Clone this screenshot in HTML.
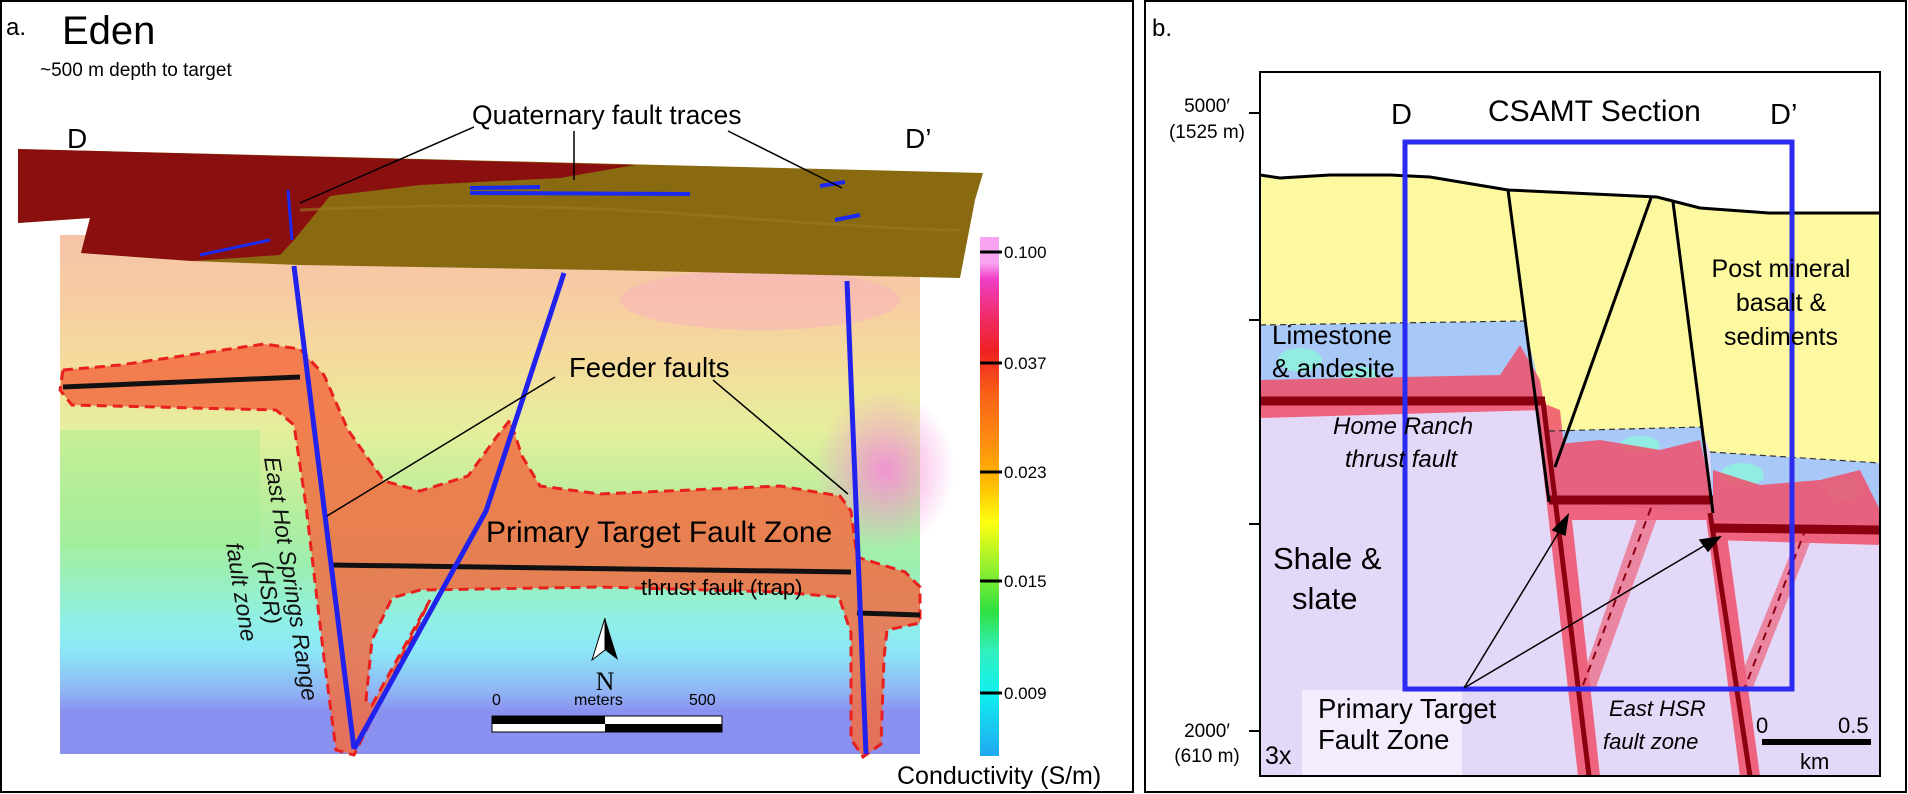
<!DOCTYPE html>
<html><head><meta charset="utf-8"><style>
html,body{margin:0;padding:0;background:#fff;}
svg{display:block;font-family:"Liberation Sans",sans-serif;}
</style></head><body>
<svg width="1908" height="794" viewBox="0 0 1908 794" xmlns="http://www.w3.org/2000/svg">
<defs>
<linearGradient id="cond" x1="0" y1="0" x2="0" y2="1">
<stop offset="0" stop-color="#f6c4a8"/>
<stop offset="0.12" stop-color="#f7cca2"/>
<stop offset="0.25" stop-color="#f4dc9c"/>
<stop offset="0.38" stop-color="#e4ef9c"/>
<stop offset="0.52" stop-color="#b8ee9c"/>
<stop offset="0.64" stop-color="#9cefb0"/>
<stop offset="0.74" stop-color="#90f0e4"/>
<stop offset="0.8" stop-color="#8ce8f8"/>
<stop offset="0.88" stop-color="#90b4f4"/>
<stop offset="0.92" stop-color="#8a90f0"/>
<stop offset="1" stop-color="#8a90f0"/>
</linearGradient>
<radialGradient id="pinkR" cx="0.5" cy="0.5" r="0.5">
<stop offset="0" stop-color="#f58ad8" stop-opacity="0.9"/>
<stop offset="1" stop-color="#f58ad8" stop-opacity="0"/>
</radialGradient>
<linearGradient id="cbar" x1="0" y1="0" x2="0" y2="1">
<stop offset="0" stop-color="#f8a4f0"/>
<stop offset="0.05" stop-color="#f8a4f0"/>
<stop offset="0.08" stop-color="#f040c8"/>
<stop offset="0.16" stop-color="#f02a60"/>
<stop offset="0.22" stop-color="#f02020"/>
<stop offset="0.3" stop-color="#f86018"/>
<stop offset="0.4" stop-color="#ff9010"/>
<stop offset="0.47" stop-color="#ffb800"/>
<stop offset="0.55" stop-color="#ffff10"/>
<stop offset="0.64" stop-color="#90f030"/>
<stop offset="0.72" stop-color="#30e040"/>
<stop offset="0.8" stop-color="#30f0c0"/>
<stop offset="0.88" stop-color="#10f0f0"/>
<stop offset="1" stop-color="#20a8f0"/>
</linearGradient>
</defs>

<rect x="1" y="1" width="1132" height="791" fill="none" stroke="#000" stroke-width="2"/>
<rect x="1145" y="1" width="761" height="791" fill="none" stroke="#000" stroke-width="2"/>

<!-- ===== Panel a ===== -->
<text x="6" y="35" font-size="24">a.</text>
<text x="62" y="44" font-size="40">Eden</text>
<text x="40" y="76" font-size="19">~500 m depth to target</text>

<rect x="60" y="235" width="860" height="519" fill="url(#cond)"/>
<ellipse cx="885" cy="470" rx="70" ry="80" fill="url(#pinkR)"/>
<ellipse cx="760" cy="300" rx="140" ry="30" fill="#f7b0c0" opacity="0.5"/>
<rect x="60" y="430" width="200" height="120" fill="#9eee90" opacity="0.4"/>

<path d="M63,370 L120,365 L264,344 L300,349 L324,375 L348,430 L384,481 L420,491 L468,476 L498,435 L510,420 L522,456 L540,486 L600,494 L780,486 L840,496 L851,511 L857,557 L905,572 L920,587 L920,623 L887,630 L884,658 L881,744 L863,757 L851,739 L851,633 L839,597 L779,592 L600,587 L420,590 L392,598 L372,640 L366,700 L372,705 L430,600 L354,755 L336,750 L324,658 L306,506 L294,425 L276,410 L72,405 L60,390 Z" fill="#f26c42" fill-opacity="0.85" stroke="#e82020" stroke-width="3" stroke-dasharray="10,6"/>

<line x1="63" y1="387" x2="300" y2="377" stroke="#111" stroke-width="5"/>
<line x1="330" y1="565" x2="851" y2="572" stroke="#111" stroke-width="5"/>
<line x1="857" y1="613" x2="920" y2="615" stroke="#111" stroke-width="5"/>

<path d="M18,149 L983,173 L975,200 L960,278 L600,270 L300,265 L192,261 L81,253 L90,218 L18,223 Z" fill="#8a6a10"/>
<path d="M18,149 L635,165 L560,178 L420,185 L330,196 L294,240 L280,255 L192,261 L81,253 L90,218 L18,223 Z" fill="#8a1010"/>
<path d="M300,210 Q500,200 700,215 T960,230" stroke="#9c7c20" stroke-width="3" fill="none" opacity="0.6"/>
<path d="M470,193 L690,194 M470,188 L540,187 M820,186 L845,182 M835,220 L860,215" stroke="#1a2af0" stroke-width="4" fill="none"/>
<path d="M288,190 L292,240 M200,255 L270,240" stroke="#1a2af0" stroke-width="3" fill="none"/>

<g stroke="#2222ee" stroke-width="5" fill="none" stroke-linejoin="round">
<polyline points="294,266 354,749"/>
<polyline points="564,273 486,511 354,749"/>
<polyline points="847,281 866,754"/>
</g>

<text x="67" y="148" font-size="28">D</text>
<text x="905" y="148" font-size="28">D’</text>
<text x="472" y="124" font-size="26.5">Quaternary fault traces</text>
<g stroke="#000" stroke-width="1.5">
<line x1="474" y1="127" x2="300" y2="203"/>
<line x1="574" y1="131" x2="574" y2="180"/>
<line x1="728" y1="131" x2="842" y2="188"/>
<line x1="555" y1="377" x2="327" y2="516"/>
<line x1="713" y1="380" x2="848" y2="494"/>
</g>
<text x="569" y="377" font-size="27.5">Feeder faults</text>
<text x="486" y="542" font-size="30">Primary Target Fault Zone</text>
<text x="641" y="595" font-size="22">thrust fault (trap)</text>
<g font-size="23" font-style="italic" fill="#111">
<text transform="translate(264,458) rotate(81)">East Hot Springs Range</text>
<text transform="translate(256,562) rotate(81)">(HSR)</text>
<text transform="translate(226,544) rotate(81)">fault zone</text>
</g>

<path d="M605,618 L592,660 L605,650 Z" fill="#fff" stroke="#000" stroke-width="1"/>
<path d="M605,618 L618,660 L605,650 Z" fill="#000"/>
<text x="605" y="690" font-size="26" font-family="Liberation Serif,serif" text-anchor="middle">N</text>
<text x="492" y="705" font-size="16">0</text>
<text x="574" y="705" font-size="16">meters</text>
<text x="689" y="705" font-size="16">500</text>
<rect x="492" y="716" width="113" height="8" fill="#000"/>
<rect x="492" y="724" width="113" height="8" fill="#fff"/>
<rect x="605" y="716" width="117" height="8" fill="#fff"/>
<rect x="605" y="724" width="117" height="8" fill="#000"/>
<rect x="492" y="716" width="230" height="16" fill="none" stroke="#000" stroke-width="1"/>

<rect x="980" y="237" width="19" height="519" fill="url(#cbar)"/>
<g stroke="#000" stroke-width="3">
<line x1="980" y1="252" x2="1002" y2="252"/>
<line x1="980" y1="363" x2="1002" y2="363"/>
<line x1="980" y1="472" x2="1002" y2="472"/>
<line x1="980" y1="581" x2="1002" y2="581"/>
<line x1="980" y1="693" x2="1002" y2="693"/>
</g>
<g font-size="17">
<text x="1004" y="258">0.100</text>
<text x="1004" y="369">0.037</text>
<text x="1004" y="478">0.023</text>
<text x="1004" y="587">0.015</text>
<text x="1004" y="699">0.009</text>
</g>
<text x="897" y="784" font-size="25">Conductivity (S/m)</text>

<!-- ===== Panel b ===== -->
<text x="1152" y="36" font-size="24">b.</text>
<g stroke="#000" stroke-width="2">
<line x1="1249" y1="113" x2="1260" y2="113"/>
<line x1="1249" y1="320" x2="1260" y2="320"/>
<line x1="1249" y1="524" x2="1260" y2="524"/>
<line x1="1249" y1="731" x2="1260" y2="731"/>
</g>
<g font-size="19" text-anchor="middle">
<text x="1207" y="112">5000′</text>
<text x="1207" y="138">(1525 m)</text>
<text x="1207" y="737">2000′</text>
<text x="1207" y="762">(610 m)</text>
</g>

<rect x="1260" y="72" width="620" height="704" fill="#fff"/>
<rect x="1260" y="380" width="620" height="396" fill="#e4d8f8"/>
<path d="M1260,175 L1280,178 L1330,175 L1390,175 L1430,177 L1508,190 L1657,197 L1700,208 L1769,213 L1880,213 L1880,463 L1710,452 L1701,427 L1549,431 L1524,321 L1260,325 Z" fill="#fdf9a0"/>
<path d="M1260,325 L1524,321 L1543,401 L1260,401 Z" fill="#a8c8f8"/>
<path d="M1549,431 L1701,427 L1713,513 L1549,502 Z" fill="#a8c8f8"/>
<path d="M1710,452 L1880,463 L1880,528 L1713,520 Z" fill="#a8c8f8"/>
<g fill="#90f0e0" opacity="0.9">
<ellipse cx="1300" cy="360" rx="22" ry="12"/>
<ellipse cx="1360" cy="375" rx="18" ry="8"/>
<ellipse cx="1640" cy="445" rx="20" ry="9"/>
<ellipse cx="1742" cy="475" rx="22" ry="12"/>
<ellipse cx="1845" cy="490" rx="18" ry="10"/>
</g>
<g fill="#f0506a" opacity="0.85">
<path d="M1260,380 L1500,375 L1520,345 L1540,380 L1545,410 L1260,418 Z"/>
<path d="M1549,445 L1600,440 L1660,450 L1700,440 L1713,500 L1713,520 L1549,520 Z"/>
<path d="M1713,470 L1760,485 L1820,480 L1860,470 L1880,510 L1880,545 L1713,540 Z"/>
<path d="M1535,400 L1560,410 L1600,776 L1578,776 Z"/>
<path d="M1705,510 L1725,520 L1760,776 L1740,776 Z"/>
<path d="M1640,510 L1660,510 L1595,690 L1578,690 Z" opacity="0.7"/>
<path d="M1800,530 L1815,530 L1752,690 L1735,690 Z" opacity="0.7"/>
</g>
<g stroke="#8b0010" stroke-width="9" fill="none">
<line x1="1260" y1="401" x2="1545" y2="401"/>
<line x1="1549" y1="500" x2="1713" y2="500"/>
<line x1="1713" y1="528" x2="1880" y2="530"/>
</g>
<g stroke="#8b0010" stroke-width="5" fill="none">
<line x1="1543" y1="401" x2="1589" y2="776"/>
<line x1="1710" y1="513" x2="1750" y2="776"/>
</g>
<g stroke="#8b0010" stroke-width="2" stroke-dasharray="8,6" fill="none">
<line x1="1651" y1="508" x2="1583" y2="685"/>
<line x1="1806" y1="528" x2="1744" y2="690"/>
</g>
<g stroke="#333" stroke-width="1.2" stroke-dasharray="6,4" fill="none">
<line x1="1260" y1="325" x2="1524" y2="321"/>
<line x1="1549" y1="431" x2="1701" y2="427"/>
<line x1="1710" y1="452" x2="1880" y2="463"/>
</g>
<path d="M1260,175 L1280,178 L1330,175 L1390,175 L1430,177 L1508,190 L1657,197 L1700,208 L1769,213 L1880,213" stroke="#000" stroke-width="3" fill="none"/>
<g stroke="#000" stroke-width="3">
<line x1="1508" y1="190" x2="1549" y2="502"/>
<line x1="1651" y1="198" x2="1555" y2="467"/>
<line x1="1673" y1="202" x2="1713" y2="513"/>
</g>
<rect x="1302" y="690" width="160" height="86" fill="#f2ecfc"/>
<rect x="1405" y="142" width="387" height="547" fill="none" stroke="#2a2af0" stroke-width="5"/>
<rect x="1260" y="72" width="620" height="704" fill="none" stroke="#000" stroke-width="2"/>

<g stroke="#000" stroke-width="1.5" fill="#000">
<line x1="1464" y1="688" x2="1565" y2="522"/>
<line x1="1464" y1="688" x2="1714" y2="540"/>
<path d="M1568,515 L1553,530 L1565,535 Z"/>
<path d="M1720,537 L1700,540 L1708,551 Z"/>
</g>

<text x="1391" y="124" font-size="29">D</text>
<text x="1488" y="121" font-size="30">CSAMT Section</text>
<text x="1770" y="124" font-size="29">D’</text>
<g font-size="25" text-anchor="middle">
<text x="1781" y="277">Post mineral</text>
<text x="1781" y="311">basalt &amp;</text>
<text x="1781" y="345">sediments</text>
</g>
<text x="1272" y="344" font-size="26">Limestone</text>
<text x="1272" y="377" font-size="26">&amp; andesite</text>
<text x="1333" y="434" font-size="24" font-style="italic">Home Ranch</text>
<text x="1345" y="467" font-size="24" font-style="italic">thrust fault</text>
<text x="1273" y="569" font-size="31">Shale &amp;</text>
<text x="1292" y="609" font-size="31">slate</text>
<text x="1318" y="718" font-size="27.5">Primary Target</text>
<text x="1318" y="749" font-size="27.5">Fault Zone</text>
<text x="1609" y="716" font-size="22" font-style="italic">East HSR</text>
<text x="1603" y="749" font-size="22" font-style="italic">fault zone</text>
<text x="1265" y="764" font-size="25">3x</text>
<text x="1756" y="733" font-size="22">0</text>
<text x="1838" y="733" font-size="22">0.5</text>
<rect x="1762" y="739" width="109" height="6" fill="#000"/>
<text x="1800" y="769" font-size="22">km</text>
</svg>
</body></html>
